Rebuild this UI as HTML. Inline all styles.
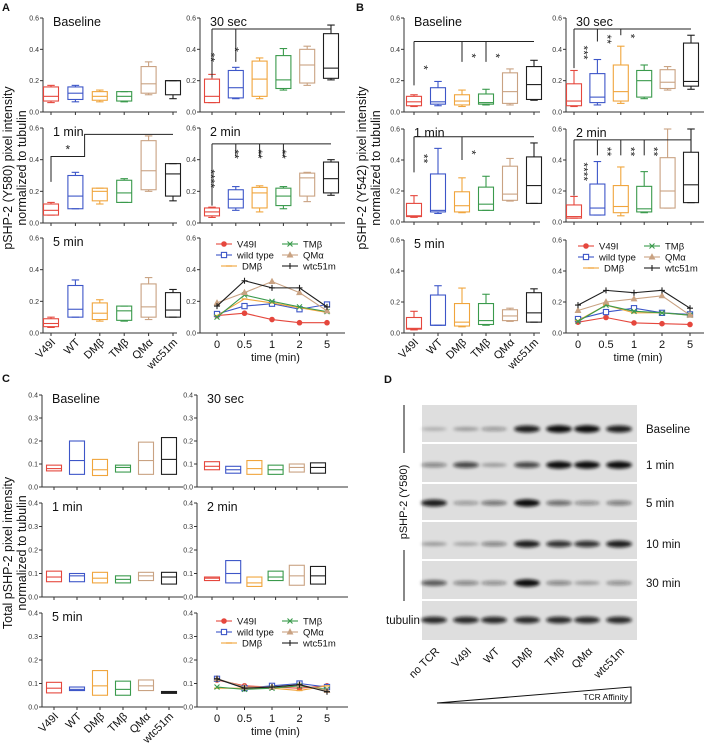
<!DOCTYPE html>
<html><head><meta charset="utf-8"><style>
body{margin:0;background:#fff}
svg{display:block;font-family:"Liberation Sans",Arial,sans-serif}
</style></head><body>
<svg id="fig" width="708" height="746" viewBox="0 0 708 746">
<defs><filter id="blur" x="-20%" y="-100%" width="140%" height="300%"><feGaussianBlur stdDeviation="1.6"/></filter></defs>
</svg>
<script>
const cats=['V49I','WT','DMβ','TMβ','QMα','wtc51m'];
const times=['0','0.5','1','2','5'];
const seriesNames=['V49I','wild type','DMβ','TMβ','QMα','wtc51m'];
const ticksA=[0,0.2,0.4,0.6];
const ticksC=[0,0.1,0.2,0.3,0.4];
// Box data: [min,q1,median,q3,max]
const A_base=[[0.06,0.07,0.10,0.16,0.17],[0.065,0.08,0.12,0.16,0.17],[0.065,0.075,0.10,0.13,0.14],[0.065,0.07,0.10,0.13,0.13],[0.11,0.12,0.18,0.29,0.32],[0.085,0.11,0.20,0.20,0.20]];
const A_30s=[[0.06,0.06,0.10,0.21,0.24],[0.085,0.09,0.155,0.265,0.285],[0.085,0.10,0.21,0.325,0.345],[0.14,0.15,0.205,0.36,0.405],[0.17,0.185,0.30,0.40,0.42],[0.205,0.215,0.28,0.50,0.555]];
const A_1m=[[0.05,0.05,0.08,0.12,0.13],[0.09,0.09,0.17,0.30,0.32],[0.12,0.14,0.20,0.22,0.22],[0.13,0.13,0.19,0.27,0.28],[0.20,0.21,0.33,0.52,0.55],[0.14,0.17,0.31,0.375,0.375]];
const A_2m=[[0.035,0.045,0.07,0.095,0.10],[0.08,0.095,0.15,0.21,0.23],[0.07,0.095,0.19,0.225,0.235],[0.09,0.11,0.17,0.22,0.23],[0.135,0.17,0.285,0.315,0.32],[0.175,0.19,0.28,0.385,0.40]];
const A_5m=[[0.035,0.04,0.06,0.09,0.10],[0.10,0.10,0.15,0.30,0.335],[0.075,0.085,0.125,0.19,0.21],[0.075,0.08,0.14,0.17,0.17],[0.085,0.10,0.165,0.31,0.35],[0.10,0.10,0.145,0.255,0.275]];
const A_line=[[0.11,0.125,0.085,0.065,0.065],[0.12,0.17,0.185,0.15,0.18],[0.11,0.215,0.19,0.16,0.13],[0.10,0.24,0.20,0.165,0.135],[0.19,0.255,0.325,0.255,0.14],[0.17,0.33,0.285,0.285,0.165]];
const B_base=[[0.035,0.04,0.065,0.10,0.11],[0.04,0.05,0.065,0.155,0.195],[0.035,0.045,0.07,0.11,0.14],[0.045,0.05,0.06,0.115,0.145],[0.045,0.055,0.13,0.25,0.275],[0.075,0.08,0.175,0.29,0.33]];
const B_30s=[[0.035,0.04,0.07,0.18,0.265],[0.045,0.06,0.095,0.245,0.335],[0.055,0.07,0.13,0.30,0.42],[0.085,0.095,0.20,0.265,0.30],[0.14,0.15,0.19,0.27,0.29],[0.145,0.165,0.195,0.44,0.49]];
const B_1m=[[0.03,0.035,0.04,0.12,0.17],[0.055,0.065,0.075,0.31,0.475],[0.06,0.065,0.105,0.195,0.285],[0.075,0.075,0.115,0.225,0.295],[0.135,0.14,0.18,0.36,0.41],[0.12,0.12,0.235,0.42,0.51]];
const B_2m=[[0.025,0.025,0.035,0.11,0.165],[0.045,0.045,0.09,0.245,0.39],[0.04,0.06,0.10,0.235,0.355],[0.06,0.065,0.085,0.23,0.325],[0.09,0.09,0.20,0.415,0.60],[0.125,0.125,0.24,0.45,0.60]];
const B_5m=[[0.02,0.025,0.03,0.10,0.14],[0.05,0.05,0.05,0.245,0.305],[0.04,0.045,0.07,0.19,0.29],[0.05,0.055,0.08,0.19,0.25],[0.075,0.08,0.11,0.15,0.16],[0.07,0.07,0.13,0.26,0.285]];
const B_line=[[0.07,0.10,0.065,0.06,0.055],[0.09,0.135,0.16,0.13,0.12],[0.08,0.18,0.13,0.13,0.115],[0.075,0.18,0.14,0.13,0.115],[0.145,0.20,0.22,0.24,0.115],[0.18,0.275,0.26,0.275,0.16]];
// C floating bars: [q1,median,q3]
const C_base=[[0.07,0.08,0.095],[0.055,0.115,0.20],[0.05,0.075,0.12],[0.065,0.085,0.095],[0.055,0.115,0.195],[0.055,0.12,0.215]];
const C_30s=[[0.075,0.09,0.11],[0.06,0.075,0.09],[0.055,0.08,0.115],[0.055,0.075,0.095],[0.065,0.085,0.10],[0.06,0.085,0.105]];
const C_1m=[[0.065,0.085,0.11],[0.065,0.09,0.10],[0.06,0.08,0.105],[0.06,0.075,0.09],[0.07,0.09,0.105],[0.055,0.085,0.105]];
const C_2m=[[0.07,0.08,0.085],[0.06,0.10,0.155],[0.045,0.06,0.085],[0.07,0.085,0.11],[0.05,0.09,0.135],[0.055,0.09,0.13]];
const C_5m=[[0.06,0.08,0.105],[0.07,0.075,0.085],[0.05,0.09,0.155],[0.05,0.075,0.11],[0.07,0.09,0.115],[0.058,0.062,0.066]];
const C_line=[[0.115,0.09,0.085,0.08,0.09],[0.12,0.08,0.09,0.10,0.085],[0.08,0.08,0.08,0.07,0.09],[0.085,0.075,0.08,0.09,0.075],[0.12,0.085,0.085,0.095,0.07],[0.12,0.08,0.085,0.095,0.065]];
// significance: line level, drops [category index, end value, stars]
const sigA30={level:0.53,last:5,drops:[[0,0.22,'**'],[1,0.32,'*']]};
const sigA2={level:0.50,last:5,drops:[[0,0.11,'****'],[1,0.42,'**'],[2,0.42,'**'],[3,0.42,'**']]};
const sigBbase={level:0.45,last:5,drops:[[0,0.17,'*'],[2,0.32,'*'],[3,0.32,'*']]};
const sigB30={level:0.53,last:5,drops:[[0,0.28,'***'],[1,0.45,'**'],[2,0.49,'*']]};
const sigB1={level:0.55,last:5,drops:[[0,0.32,'**'],[2,0.40,'*']]};
const sigB2={level:0.53,last:5,drops:[[0,0.17,'****'],[1,0.43,'**'],[2,0.43,'**'],[3,0.43,'**']]};
// blot band intensities per strip per lane
const lanes=['no TCR','V49I','WT','DMβ','TMβ','QMα','wtc51m'];
const stripNames=['Baseline','1 min','5 min','10 min','30 min','tubulin'];
const bandBase=[0.1,0.2,0.25,0.9,1,1,0.9];
const band1m=[0.35,0.7,0.2,0.7,1,1,1];
const band5m=[0.9,0.25,0.45,1,0.5,0.3,0.4];
const band10m=[0.2,0.15,0.35,0.9,0.8,0.8,0.9];
const band30m=[0.6,0.35,0.3,1,0.35,0.2,0.3];
const bandTub=[0.85,0.85,0.85,0.85,0.85,0.85,0.85];

const colors=['#e5473d','#3d56c8','#f0a53c','#3a9a4c','#c9a282','#1e1e1e'];
const NS='http://www.w3.org/2000/svg';
const svg=document.getElementById('fig');
function el(tag,attrs,parent){const e=document.createElementNS(NS,tag);for(const k in attrs)e.setAttribute(k,attrs[k]);(parent||svg).appendChild(e);return e;}
function txt(s,attrs,parent){const t=el('text',attrs,parent);t.textContent=s;return t;}

function makeAxes(name,ax,xEnd,yTop,y0,vmax,ticks,cx,title,catLabels,isLine){
  const g=el('g',{});
  
  
  const y=v=>y0-v/vmax*(y0-yTop);
  el('line',{x1:ax,y1:yTop,x2:ax,y2:y0,stroke:'#333','stroke-width':1},g);
  el('line',{x1:ax,y1:y0,x2:xEnd,y2:y0,stroke:'#333','stroke-width':1},g);
  ticks.forEach(t=>{
    el('line',{x1:ax-3,y1:y(t),x2:ax,y2:y(t),stroke:'#333','stroke-width':1},g);
    const tl=txt(t.toFixed(1),{x:ax-4,y:y(t)+2.5,'font-size':7,'text-anchor':'end',fill:'#333'},g);
    
    
  });
  cx.forEach(x=>el('line',{x1:x,y1:y0,x2:x,y2:y0+3,stroke:'#333','stroke-width':1},g));
  if(title){const tt=txt(title,{x:ax+10,y:yTop+8,'font-size':12.5,fill:'#111'},g);
    
    }
  if(catLabels){catLabels.forEach((c,i)=>{
    if(isLine){const l=txt(c,{x:cx[i],y:y0+15,'font-size':11,'text-anchor':'middle',fill:'#111'},g);
      
      }
    else{const l=txt(c,{x:cx[i]+5,y:y0+10,'font-size':11,'text-anchor':'end',fill:'#111',transform:`rotate(-45 ${cx[i]+5} ${y0+10})`},g);
      
      }
  });
  if(isLine){const l=txt('time (min)',{x:(ax+xEnd)/2+3,y:y0+28,'font-size':11,'text-anchor':'middle',fill:'#111'},g);
    
    }}
  return {g,y};
}
function boxes(ax,data,cx,whisk){
  data.forEach((d,i)=>{
    const c=colors[i],x=cx[i],w=7.5;
    const b=el('g',{stroke:c,'stroke-width':1.1,fill:'none'},ax.g);
    
    
    if(whisk){
      const [mn,q1,md,q3,mx]=d.map(ax.y);
      el('rect',{x:x-w,y:q3,width:2*w,height:Math.max(q1-q3,0.5)},b);
      el('line',{x1:x-w,y1:md,x2:x+w,y2:md},b);
      el('line',{x1:x,y1:q3,x2:x,y2:mx},b);el('line',{x1:x-w/2,y1:mx,x2:x+w/2,y2:mx},b);
      el('line',{x1:x,y1:q1,x2:x,y2:mn},b);el('line',{x1:x-w/2,y1:mn,x2:x+w/2,y2:mn},b);
    } else {
      const [q1,md,q3]=d.map(ax.y);
      el('rect',{x:x-w,y:q3,width:2*w,height:Math.max(q1-q3,0.5),fill:i==5&&q1-q3<4?'#555':'none'},b);
      el('line',{x1:x-w,y1:md,x2:x+w,y2:md},b);
    }
  });
}
function sig(ax,s,cx,side){
  const g=el('g',{stroke:'#222','stroke-width':1,fill:'none'},ax.g);
  
  
  const L=ax.y(s.level);
  el('line',{x1:cx[s.drops[0][0]],y1:L,x2:cx[s.last],y2:L},g);
  s.drops.forEach(([ci,v,st])=>{
    const x=cx[ci],ye=ax.y(v);
    el('line',{x1:x,y1:L,x2:x,y2:ye},g);
    const tx=x+side*5.5,ty=(L+ye)/2+4;
    const t=txt(st,{x:tx,y:ty,'font-size':12,'text-anchor':'middle',fill:'#222',stroke:'none',transform:`rotate(90 ${tx} ${ty})`},ax.g);
    
    
  });
}
function marker(g,k,x,y,c){
  if(k==0)el('circle',{cx:x,cy:y,r:2.3,fill:c,stroke:c},g);
  else if(k==1)el('rect',{x:x-2.6,y:y-2.6,width:5.2,height:5.2,fill:'#fff',stroke:c,'stroke-width':1.1},g);
  else if(k==2)el('line',{x1:x-3,y1:y,x2:x+3,y2:y,stroke:c,'stroke-width':1.3},g);
  else if(k==3){el('path',{d:`M${x-2.5} ${y-2.5}L${x+2.5} ${y+2.5}M${x-2.5} ${y+2.5}L${x+2.5} ${y-2.5}`,stroke:c,'stroke-width':1.1},g);}
  else if(k==4)el('path',{d:`M${x} ${y-2.8}L${x+2.6} ${y+2}L${x-2.6} ${y+2}Z`,fill:c,stroke:c},g);
  else el('path',{d:`M${x-3} ${y}H${x+3}M${x} ${y-3}V${y+3}`,stroke:c,'stroke-width':1.1},g);
}
function lines(ax,data,tx,legX,legY){
  data.forEach((s,k)=>{
    const g=el('g',{},ax.g);
    
    
    el('polyline',{points:s.map((v,i)=>tx[i]+','+ax.y(v)).join(' '),fill:'none',stroke:colors[k],'stroke-width':1.1},g);
    s.forEach((v,i)=>marker(g,k,tx[i],ax.y(v),colors[k]));
  });
  seriesNames.forEach((n,k)=>{
    const g=el('g',{},ax.g);
    
    
    const pos=[[0,0],[0,1],[0,2],[1,0],[1,1],[1,2]][k];
    const PX=legX+pos[0]*66+(k==2?5:0),PY=legY+pos[1]*11;
    el('line',{x1:PX,y1:PY,x2:PX+16,y2:PY,stroke:colors[k],'stroke-width':1.1},g);
    marker(g,k,PX+8,PY,colors[k]);
    txt(n,{x:PX+21,y:PY+3.5,'font-size':9.5,fill:'#111'},g);
  });
}
function range(n,a,s){return Array.from({length:n},(_,i)=>a+i*s);}
function ylabel(lines2,x,cy,name){
  const g=el('g',{});
  
  
  lines2.forEach((l,i)=>txt(l,{x:x+i*14,y:cy,'font-size':12.5,'text-anchor':'middle',fill:'#111',transform:`rotate(-90 ${x+i*14} ${cy})`},g));
}
function panelLabel(s,x,y){const t=txt(s,{x:x,y:y,'font-size':11,'font-weight':'bold',fill:'#111'});
  
  }

// ===== Panel A =====
panelLabel('A',2,11);
ylabel(['pSHP-2 (Y580) pixel intensity','normalized to tubulin'],12,168,'y-axis-title-a');
const rTop=[18,128,238],rBot=[112,223,333];
const aL=range(6,51,24.4),aR=range(6,212,23.8),aT=range(5,217,27.5);
let ax;
ax=makeAxes('a-baseline',43,177,rTop[0],rBot[0],0.6,ticksA,aL,'Baseline');boxes(ax,A_base,aL,true);
ax=makeAxes('a-30sec',200,345,rTop[0],rBot[0],0.6,ticksA,aR,'30 sec');boxes(ax,A_30s,aR,true);sig(ax,sigA30,aR,-1);
ax=makeAxes('a-1min',43,177,rTop[1],rBot[1],0.6,ticksA,aL,'1 min');boxes(ax,A_1m,aL,true);
(function(){const g=el('g',{stroke:'#222','stroke-width':1,fill:'none'},ax.g);
  
  
  const xm=(aL[1]+aL[2])/2-3;
  el('path',{d:`M${aL[0]} ${ax.y(0.26)}V${ax.y(0.42)}H${xm}V${ax.y(0.56)}H${aL[5]}`},g);
  txt('*',{x:(aL[0]+xm)/2,y:ax.y(0.42)-3,'font-size':12,'text-anchor':'middle',fill:'#222',stroke:'none'},ax.g);})();
ax=makeAxes('a-2min',200,345,rTop[1],rBot[1],0.6,ticksA,aR,'2 min');boxes(ax,A_2m,aR,true);sig(ax,sigA2,aR,-1);
ax=makeAxes('a-5min',43,177,rTop[2],rBot[2],0.6,ticksA,aL,'5 min',cats);boxes(ax,A_5m,aL,true);
ax=makeAxes('a-timecourse',200,345,rTop[2],rBot[2],0.6,ticksA,aT,null,times,true);lines(ax,A_line,aT,216,244);

// ===== Panel B =====
panelLabel('B',356,11);
ylabel(['pSHP-2 (Y542) pixel intensity','normalized to tubulin'],366,168,'y-axis-title-b');
const bTop=[18,129,240],bBot=[112,222,333];
const bL=range(6,414,24),bR=range(6,574,23.4),bT=range(5,578,28);
ax=makeAxes('b-baseline',404,540,bTop[0],bBot[0],0.6,ticksA,bL,'Baseline');boxes(ax,B_base,bL,true);sig(ax,sigBbase,bL,1);
ax=makeAxes('b-30sec',566,704,bTop[0],bBot[0],0.6,ticksA,bR,'30 sec');boxes(ax,B_30s,bR,true);sig(ax,sigB30,bR,1);
ax=makeAxes('b-1min',404,540,bTop[1],bBot[1],0.6,ticksA,bL,'1 min');boxes(ax,B_1m,bL,true);sig(ax,sigB1,bL,1);
ax=makeAxes('b-2min',566,704,bTop[1],bBot[1],0.6,ticksA,bR,'2 min');boxes(ax,B_2m,bR,true);sig(ax,sigB2,bR,1);
ax=makeAxes('b-5min',404,540,bTop[2],bBot[2],0.6,ticksA,bL,'5 min',cats);boxes(ax,B_5m,bL,true);
ax=makeAxes('b-timecourse',566,704,bTop[2],bBot[2],0.6,ticksA,bT,null,times,true);lines(ax,B_line,bT,578,246);

// ===== Panel C =====
panelLabel('C',2,382);
ylabel(['Total pSHP-2 pixel intensity','normalized to tubulin'],12,553,'y-axis-title-c');
const cTop=[395,503,613],cBot=[487,597,707];
const cL=range(6,54,23),cR=range(6,212,21.2),cT=range(5,217,27.5);
ax=makeAxes('c-baseline',42,183,cTop[0],cBot[0],0.4,ticksC,cL,'Baseline');boxes(ax,C_base,cL,false);
ax=makeAxes('c-30sec',197,348,cTop[0],cBot[0],0.4,ticksC,cR,'30 sec');boxes(ax,C_30s,cR,false);
ax=makeAxes('c-1min',42,183,cTop[1],cBot[1],0.4,ticksC,cL,'1 min');boxes(ax,C_1m,cL,false);
ax=makeAxes('c-2min',197,348,cTop[1],cBot[1],0.4,ticksC,cR,'2 min');boxes(ax,C_2m,cR,false);
ax=makeAxes('c-5min',42,183,cTop[2],cBot[2],0.4,ticksC,cL,'5 min',cats);boxes(ax,C_5m,cL,false);
ax=makeAxes('c-timecourse',197,348,cTop[2],cBot[2],0.4,ticksC,cT,null,times,true);lines(ax,C_line,cT,216,621);

// ===== Panel D =====
panelLabel('D',384,383);
const blot=el('g',{});


const stripY=[[405,442],[444,482],[484,520],[522,559],[561,599],[601,640]];
const bandY=[429,465,503,544,583,620];
const laneX=[434,466,494,527,559,587,619];
const bands=[bandBase,band1m,band5m,band10m,band30m,bandTub];
stripY.forEach(([a,b],s)=>{
  const sg=el('g',{},blot);
  
  
  el('rect',{x:422,y:a,width:215,height:b-a,fill:'#dedede'},sg);
  bands[s].forEach((v,i)=>{
    const e=el('ellipse',{cx:laneX[i],cy:bandY[s],rx:13,ry:1.5+v*2.2,fill:'#111','fill-opacity':(0.15+0.85*v).toFixed(2),filter:'url(#blur)'},sg);
    
    
  });
  const lbl=s<5?stripNames[s]:null;
  if(lbl){const t=txt(lbl,{x:646,y:bandY[s]+4,'font-size':11.5,fill:'#111'});
    
    }
});
{const t=txt('tubulin',{x:386,y:624,'font-size':11.5,fill:'#111'});
 }
el('line',{x1:404,y1:405,x2:404,y2:453,stroke:'#111','stroke-width':1});
el('line',{x1:404,y1:550,x2:404,y2:601,stroke:'#111','stroke-width':1});
{const t=txt('pSHP-2 (Y580)',{x:407,y:502,'font-size':11,'text-anchor':'middle',fill:'#111',transform:'rotate(-90 407 502)'});
 }
lanes.forEach((l,i)=>{const x=laneX[i]+6,y=652;
  const t=txt(l,{x:x,y:y,'font-size':11,'text-anchor':'end',fill:'#111',transform:`rotate(-45 ${x} ${y})`});
  });
{const p=el('path',{d:'M437 703L631 687V703Z',fill:'#fff',stroke:'#111','stroke-width':1});
 
 const t=txt('TCR Affinity',{x:628,y:700,'font-size':8.5,'text-anchor':'end',fill:'#111'});
 }
</script>
</body></html>
